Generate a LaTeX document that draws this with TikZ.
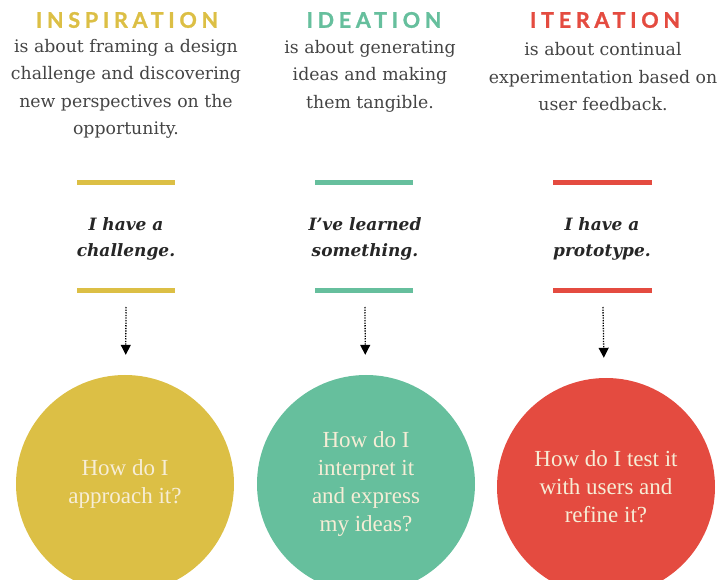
\documentclass[tikz,border=0pt]{standalone}
\usepackage{fontspec}
\setmainfont{DejaVu Serif}
\newfontfamily\headfont[LetterSpace=22,FakeBold=1.2]{Lato}
\newfontfamily\askfont{Liberation Serif}
\usetikzlibrary{arrows.meta}

\definecolor{insp}{HTML}{DCBF45}
\definecolor{idea}{HTML}{66BF9D}
\definecolor{iter}{HTML}{E44B40}
\definecolor{bodygray}{HTML}{444444}
\definecolor{cream}{HTML}{F6EDD6}

\tikzset{
  phase/.style={font=\headfont\bfseries\fontsize{21.5}{24}\selectfont},
  about/.style={align=center, text=bodygray, font=\fontsize{17.3}{27.5}\selectfont},
  feeling/.style={align=center, text=black!85, font=\bfseries\itshape\fontsize{17}{26}\selectfont},
  bar/.style={line width=5pt},
  lead/.style={line width=1.3pt, dash pattern=on 1.3pt off 1.3pt,
    -{Triangle[width=10pt,length=10pt]}, shorten >=20pt},
  ask/.style={circle, minimum size=218pt, inner sep=0pt, align=center,
    text=cream, font=\askfont\fontsize{23}{28}\selectfont}
}

\begin{document}
\begin{tikzpicture}[x=1pt,y=-1pt]
    \clip (0,0) rectangle (721,580);

    % inspiration
    \node[phase, text=insp] (inspHead) at (127,20) {INSPIRATION};
    \node[about] (inspText) at (126,89) {is about framing a design\\challenge and discovering\\new perspectives on the\\opportunity.};
    \draw[bar, insp] (77,183) -- (175,183);
    \node[feeling] (inspFeel) at (126,239) {I have a\\challenge.};
    \draw[bar, insp] (77,291) -- (175,291);
    \coordinate (inspFrom) at (126,307);
    \node[ask, fill=insp] (inspAsk) at (125,484) {How do I\\approach it?};
    \draw[lead] (inspFrom) -- (inspAsk);

    % ideation
    \node[phase, text=idea] (ideaHead) at (374,20) {IDEATION};
    \node[about] (ideaText) at (370,76) {is about generating\\ideas and making\\them tangible.};
    \draw[bar, idea] (315,183) -- (413,183);
    \node[feeling] (ideaFeel) at (365,239) {I’ve learned\\something.};
    \draw[bar, idea] (315,291) -- (413,291);
    \coordinate (ideaFrom) at (365,307);
    \node[ask, fill=idea] (ideaAsk) at (366,484) {How do I\\interpret it\\and express\\my ideas?};
    \draw[lead] (ideaFrom) -- (ideaAsk);

    % iteration
    \node[phase, text=iter] (iterHead) at (605,20) {ITERATION};
    \node[about] (iterText) at (603,77) {is about continual\\experimentation based on\\user feedback.};
    \draw[bar, iter] (553,183) -- (652,183);
    \node[feeling] (iterFeel) at (602,239) {I have a\\prototype.};
    \draw[bar, iter] (553,291) -- (652,291);
    \coordinate (iterFrom) at (603,307);
    \node[ask, fill=iter] (iterAsk) at (606,487) {How do I test it\\with users and\\refine it?};
    \draw[lead] (iterFrom) -- (iterAsk);
\end{tikzpicture}
\end{document}
